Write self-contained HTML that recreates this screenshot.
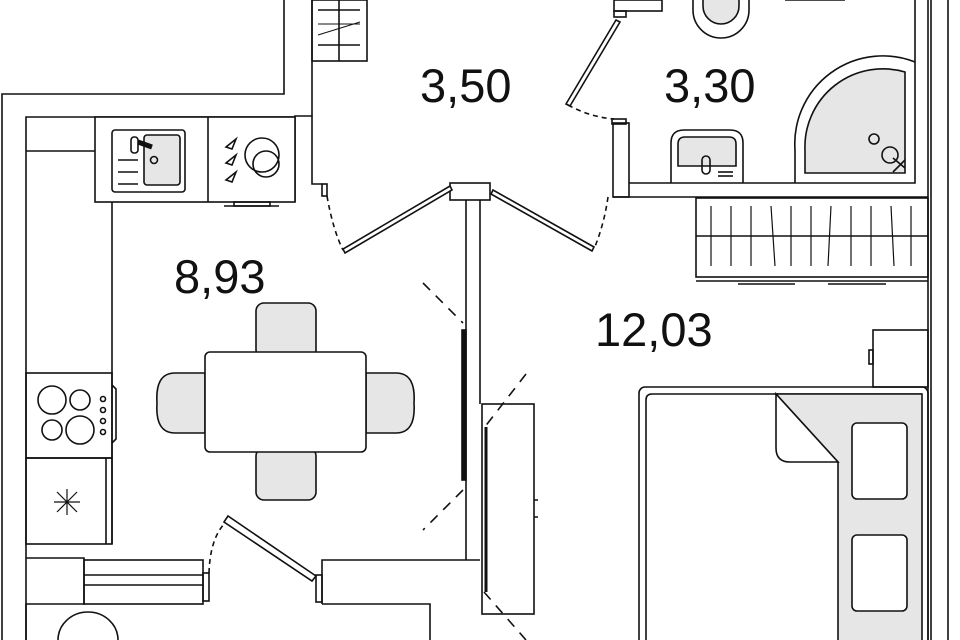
<!DOCTYPE html>
<html><head><meta charset="utf-8"><style>
html,body{margin:0;padding:0;background:#fff;width:960px;height:640px;overflow:hidden}
svg{display:block}
text{font-family:"Liberation Sans",sans-serif;font-size:47px;fill:#111}
</style></head><body>
<svg width="960" height="640" viewBox="0 0 960 640" fill="none" stroke="#111" stroke-width="1.6">
<polyline points="284,0 284,94 2,94 2,640"/>
<polyline points="26,640 26,117 295,117"/>
<polyline points="312,0 312,116 295,116 295,202"/>
<polyline points="312,116 312,184 322,184"/>
<rect x="322" y="184" width="5" height="12"/>
<rect x="312" y="0" width="55" height="61"/>
<line x1="339" y1="0" x2="339" y2="61"/>
<line x1="318" y1="10" x2="360" y2="10"/><line x1="318" y1="45" x2="360" y2="45"/>
<line x1="318" y1="35" x2="360" y2="22" stroke-width="1"/>
<line x1="318" y1="24" x2="360" y2="24" stroke-width="1"/>
<rect x="95" y="117" width="200" height="85" fill="#fff"/>
<line x1="208" y1="117" x2="208" y2="202"/>
<line x1="26" y1="151" x2="95" y2="151"/>
<line x1="112" y1="202" x2="112" y2="544"/>
<rect x="112" y="130" width="73" height="62" rx="3"/>
<rect x="144" y="135" width="36" height="50" rx="3" fill="#e6e6e6"/>
<circle cx="154" cy="160" r="3.5"/>
<rect x="131" y="137" width="7" height="16" rx="3"/>
<line x1="138" y1="142" x2="152" y2="147" stroke-width="5"/>
<line x1="118" y1="160" x2="138" y2="160"/><line x1="118" y1="172" x2="138" y2="172"/><line x1="118" y1="184" x2="138" y2="184"/>
<circle cx="262" cy="155" r="17"/><circle cx="266" cy="164" r="13"/>
<path d="M226,147 l10,-8 -4,10 z M226,163 l10,-8 -4,10 z M226,180 l10,-8 -4,10 z"/>
<line x1="224" y1="206" x2="279" y2="206"/><rect x="234" y="202" width="36" height="4"/>
<rect x="26" y="373" width="86" height="85"/>
<circle cx="52" cy="400" r="14"/><circle cx="80" cy="400" r="10"/>
<circle cx="52" cy="430" r="10"/><circle cx="80" cy="430" r="14"/>
<circle cx="103" cy="399" r="2.5"/><circle cx="103" cy="410" r="2.5"/><circle cx="103" cy="421" r="2.5"/><circle cx="103" cy="432" r="2.5"/>
<path d="M112,385 l4,4 v50 l-4,4"/>
<rect x="26" y="458" width="86" height="86"/>
<line x1="106" y1="458" x2="106" y2="544"/>
<path d="M57,492 l20,20 M77,492 l-20,20 M67,489 v26 M54,502 h26" stroke-width="1.2"/>
<polyline points="26,558 84,558 84,604 26,604 26,640"/>
<rect x="84" y="560" width="119" height="44"/>
<line x1="84" y1="575" x2="203" y2="575"/><line x1="84" y1="585" x2="203" y2="585"/>
<rect x="203" y="573" width="6" height="28"/>
<path d="M209,573 Q210,540 224,524" stroke-dasharray="5,4"/>
<polygon points="224,522 228,516 316,576 312,581" fill="#fff"/>
<rect x="316" y="575" width="6" height="27"/>
<polyline points="322,604 322,560 480,560"/>
<polyline points="322,604 430,604 430,640"/>
<path d="M58,640 A30,28 0 0 1 118,640"/>
<g fill="#e6e6e6">
<rect x="256" y="303" width="60" height="55" rx="8"/>
<rect x="256" y="448" width="60" height="52" rx="8"/>
<path d="M205,373 h-30 q-20,0 -18,30 q-2,30 18,30 h30 z"/>
<path d="M366,373 h30 q20,0 18,30 q2,30 -18,30 h-30 z"/>
</g>
<rect x="205" y="352" width="161" height="100" rx="5" fill="#fff"/>
<rect x="450" y="183" width="40" height="17" fill="#fff"/>
<line x1="466" y1="200" x2="466" y2="560"/><line x1="480" y1="200" x2="480" y2="404"/>
<polygon points="343,249 345,253 452,190 450,186" fill="#fff"/>
<path d="M327,196 Q333,230 343,250" stroke-dasharray="5,4"/>
<polygon points="493,190 491,194 592,251 594,247" fill="#fff"/>
<path d="M608,197 Q604,225 594,249" stroke-dasharray="5,4"/>
<path d="M423,283 L463,323 M463,490 L423,530" stroke-dasharray="10,8"/>
<rect x="462" y="330" width="4" height="150" fill="#111"/>
<rect x="613" y="123" width="16" height="74" fill="#fff"/>
<rect x="612" y="119" width="14" height="5"/>
<polyline points="629,183 915,183 915,0"/>
<polyline points="613,197 928,197"/>
<line x1="928" y1="0" x2="928" y2="640"/><line x1="931" y1="0" x2="931" y2="640"/>
<line x1="948" y1="0" x2="948" y2="640"/>
<rect x="614" y="0" width="48" height="11"/><rect x="614" y="11" width="12" height="6"/>
<polygon points="566,104 570,106 620,22 616,20" fill="#fff"/>
<path d="M568,105 Q590,117 614,119" stroke-dasharray="5,4"/>
<path d="M693,0 v10 a28,28 0 0 0 56,0 v-10"/>
<path d="M703,0 v6 a18,18 0 0 0 36,0 v-6" fill="#e6e6e6"/>
<path d="M785,0 h60"/>
<path d="M671,183 v-40 q0,-13 13,-13 h46 q13,0 13,13 v40"/>
<path d="M678,166 v-22 q0,-7 7,-7 h44 q7,0 7,7 v22 z" fill="#e6e6e6"/>
<rect x="702" y="156" width="8" height="18" rx="4"/>
<line x1="718" y1="172" x2="733" y2="172"/><line x1="718" y1="176" x2="733" y2="176"/>
<path d="M795,183 V150 A88,88 0 0 1 915,62"/>
<path d="M805,173 V150 A78,78 0 0 1 905,72 V173 z" fill="#e6e6e6"/>
<circle cx="874" cy="139" r="5"/><circle cx="890" cy="155" r="8"/>
<line x1="893" y1="158" x2="905" y2="168"/><line x1="893" y1="172" x2="905" y2="160"/>
<rect x="696" y="198" width="232" height="79"/>
<line x1="696" y1="236" x2="928" y2="236"/>
<g stroke-width="1.2">
<path d="M711,206 v60 M731,206 v60 M751,206 v60 M771,206 l4,60 M791,206 v60 M811,206 v60 M831,206 l-3,60 M851,206 v60 M871,206 v60 M891,206 l3,60 M911,206 v60"/>
</g>
<line x1="696" y1="281" x2="928" y2="281"/>
<line x1="738" y1="284" x2="795" y2="284"/><line x1="828" y1="284" x2="886" y2="284"/>
<rect x="873" y="330" width="55" height="57"/>
<rect x="869" y="350" width="4" height="14"/>
<rect x="639" y="387" width="289" height="260" rx="6"/>
<path d="M646,646 V400 q0,-6 6,-6 H922"/>
<path d="M776,394 H922 V646 H838 V462 Z" fill="#e6e6e6"/>
<path d="M776,394 V448 q0,14 14,14 H838 Z" fill="#fff"/>
<rect x="852" y="423" width="55" height="76" rx="5" fill="#fff"/>
<rect x="852" y="535" width="55" height="76" rx="5" fill="#fff"/>
<rect x="482" y="404" width="52" height="210" fill="#fff"/>
<line x1="486" y1="427" x2="486" y2="592" stroke-width="3"/>
<path d="M534,500 h4 M534,517 h4"/>
<path d="M526,374 L484,428 M484,592 L526,640" stroke-dasharray="10,8"/>
<g stroke="none">
<text x="420" y="102">3,50</text>
<text x="664" y="102">3,30</text>
<text x="174" y="293">8,93</text>
<text x="595" y="346">12,03</text>
</g>
</svg>
</body></html>
